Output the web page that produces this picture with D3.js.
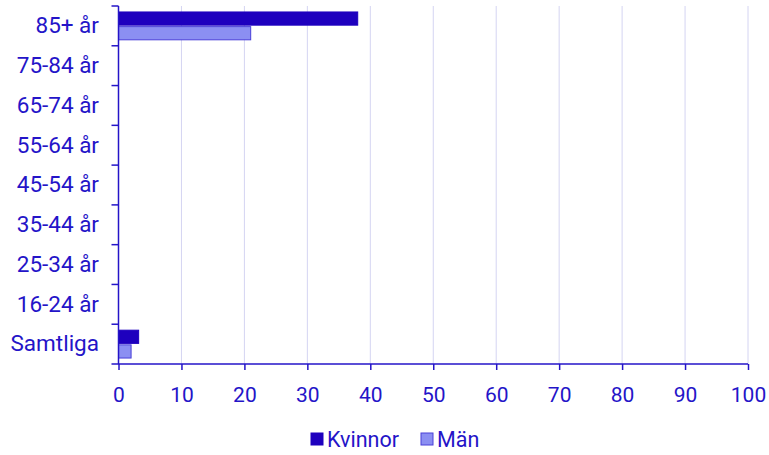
<!DOCTYPE html>
<html>
<head>
<meta charset="utf-8">
<script src="https://cdn.jsdelivr.net/npm/d3@7"></script>
<style>
	body { margin: 0; background: #fff; }
	text { font-family: Roboto, "Noto Sans", sans-serif; }
</style>
</head>
<body>
<div id="chart"></div>
<script>
	// categories, top to bottom
	const categories = [
		"85+ år",
		"75-84 år",
		"65-74 år",
		"55-64 år",
		"45-54 år",
		"35-44 år",
		"25-34 år",
		"16-24 år",
		"Samtliga",
	];
	const seriesNames = ["Kvinnor", "Män"];
	const kvinnor = [38.0, null, null, null, null, null, null, null, 3.2];
	const man = [21.0, null, null, null, null, null, null, null, 2.0];
	const xTicks = [0, 10, 20, 30, 40, 50, 60, 70, 80, 90, 100];

	const width = 769;
	const height = 455;
	const margin = { top: 6, right: 21, bottom: 91, left: 118.5 };

	const ink = "#2414c8";
	const colors = { Kvinnor: "#1e00be", Män: "#8b8ff2" };
	const strokes = { Kvinnor: "#1e00be", Män: "#4a40d8" };

	const svg = d3
		.select("#chart")
		.append("svg")
		.attr("width", width)
		.attr("height", height);

	const x = d3
		.scaleLinear()
		.domain([0, 100])
		.range([margin.left, width - margin.right]);

	const y = d3
		.scaleBand()
		.domain(categories)
		.range([margin.top, height - margin.bottom])
		.paddingInner(0.3)
		.paddingOuter(0.15);

	const ySub = d3
		.scaleBand()
		.domain(seriesNames)
		.range([0, y.bandwidth()])
		.paddingInner(0.1);

	// grid lines
	svg.append("g")
		.selectAll("line")
		.data(xTicks.filter((d) => d > 0))
		.enter()
		.append("line")
		.attr("x1", (d) => x(d))
		.attr("x2", (d) => x(d))
		.attr("y1", margin.top)
		.attr("y2", height - margin.bottom)
		.attr("stroke", "#d4d4f2")
		.attr("stroke-width", 1);

	const rows = categories.map((c, i) => ({
		cat: c,
		values: [
			{ key: "Kvinnor", value: kvinnor[i] },
			{ key: "Män", value: man[i] },
		],
	}));

	svg.append("g")
		.selectAll("g")
		.data(rows)
		.enter()
		.append("g")
		.attr("transform", (d) => "translate(0," + y(d.cat) + ")")
		.selectAll("rect")
		.data((d) => d.values.filter((v) => v.value != null))
		.enter()
		.append("rect")
		.attr("x", x(0))
		.attr("y", (d) => ySub(d.key))
		.attr("width", (d) => x(d.value) - x(0))
		.attr("height", ySub.bandwidth())
		.attr("fill", (d) => colors[d.key])
		.attr("stroke", (d) => strokes[d.key])
		.attr("stroke-width", 1);

	// x axis
	const xAxis = svg
		.append("g")
		.attr("transform", "translate(0," + (height - margin.bottom) + ")")
		.call(d3.axisBottom(x).tickValues(xTicks).tickSize(6).tickPadding(17).tickSizeOuter(0));
	xAxis.select(".domain").attr("d", "M" + (margin.left - 7) + ",0H" + x(100));

	// y axis with ticks at band boundaries
	const yAxis = svg.append("g").attr("transform", "translate(" + margin.left + ",0)");
	const step = (height - margin.bottom - margin.top) / categories.length;
	yAxis
		.append("line")
		.attr("x1", 0)
		.attr("x2", 0)
		.attr("y1", margin.top)
		.attr("y2", height - margin.bottom)
		.attr("stroke", ink)
		.attr("stroke-width", 1.5);
	yAxis
		.selectAll(".btick")
		.data(d3.range(categories.length))
		.enter()
		.append("line")
		.attr("class", "btick")
		.attr("x1", -7)
		.attr("x2", 0)
		.attr("y1", (i) => margin.top + i * step)
		.attr("y2", (i) => margin.top + i * step)
		.attr("stroke", ink)
		.attr("stroke-width", 1.5);
	yAxis
		.selectAll(".lbl")
		.data(categories)
		.enter()
		.append("text")
		.attr("class", "lbl")
		.attr("x", -19.5)
		.attr("y", (d) => y(d) + y.bandwidth() / 2 - 0.5)
		.attr("dy", "0.35em")
		.attr("text-anchor", "end")
		.attr("font-size", 22.5)
		.attr("fill", ink)
		.text((d) => d);

	xAxis.selectAll("path, line").attr("stroke", ink).attr("stroke-width", 1.5);
	xAxis.selectAll("text").attr("fill", ink).attr("font-size", 21).style("font-family", "Roboto");

	// legend
	const legend = svg.append("g").attr("transform", "translate(311,433)");
	const legendX = [0, 110];
	seriesNames.forEach((name, i) => {
		legend
			.append("rect")
			.attr("x", legendX[i])
			.attr("y", 0)
			.attr("width", 12)
			.attr("height", 12)
			.attr("fill", colors[name])
			.attr("stroke", strokes[name]);
		legend
			.append("text")
			.attr("x", legendX[i] + 16)
			.attr("y", 6.5)
			.attr("dy", "0.35em")
			.attr("font-size", 21.5)
			.attr("fill", ink)
			.text(name);
	});
</script>
</body>
</html>
